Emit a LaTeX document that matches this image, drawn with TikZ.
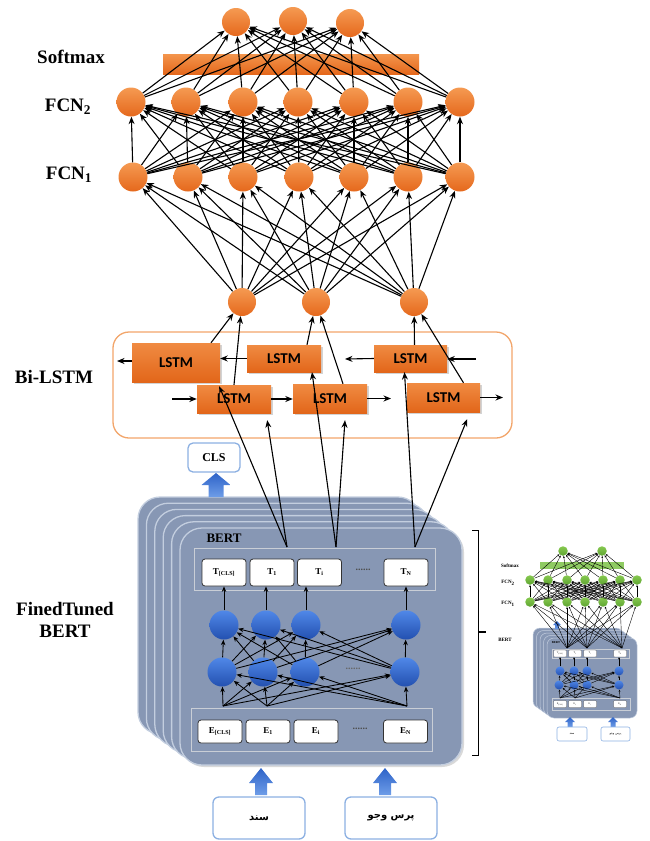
\documentclass[tikz,border=0pt]{standalone}
\usepackage{fontspec}
\setmainfont{Liberation Serif}
\newfontfamily\lstmfont{Carlito}
\newfontfamily\arabicfont[Script=Arabic]{DejaVu Sans}
\usetikzlibrary{arrows.meta,shadows,calc}
\TeXXeTstate=1
\definecolor{oTop}{HTML}{F59A52}
\definecolor{oBot}{HTML}{E5681C}
\definecolor{lstmTop}{HTML}{F08B42}
\definecolor{lstmBot}{HTML}{E2661A}
\definecolor{frameOr}{HTML}{F2A56A}
\definecolor{bTop}{HTML}{5088E8}
\definecolor{bBot}{HTML}{2350B0}
\definecolor{cardFill}{HTML}{8797B4}
\definecolor{cardEdge}{HTML}{C3CEDF}
\definecolor{rowEdge}{HTML}{C9CED6}
\definecolor{boxBlue}{HTML}{8CB0E2}
\definecolor{arrTop}{HTML}{2E63C8}
\definecolor{arrBot}{HTML}{6E9DE8}
\definecolor{gTop}{HTML}{86C94F}
\definecolor{gBot}{HTML}{5FA532}
\definecolor{gBar}{HTML}{8FCB62}
\newcommand\myblockarrow[6]{%
  \shade[top color=arrTop,bottom color=arrBot]
   (#1-#5,#2) -- (#1-#5,#3+#4) -- (#1-#6,#3+#4) -- (#1,#3) -- (#1+#6,#3+#4) -- (#1+#5,#3+#4) -- (#1+#5,#2) -- cycle;}
\begin{document}
\begin{tikzpicture}[x=1pt,y=-1pt,
  arr/.style={-{Stealth[length=7.5pt,width=6pt]},line width=1.1pt,black},
  sarr/.style={-{Stealth[length=5.5pt,width=4.5pt]},line width=0.85pt,black},
  tarr/.style={-{Stealth[length=2.2pt,width=1.8pt]},line width=0.4pt,black},
  onode/.style={circle,inner sep=0pt,minimum size=28pt,top color=oTop,bottom color=oBot,draw=none},
  bnode/.style={circle,inner sep=0pt,minimum size=29pt,top color=bTop,bottom color=bBot,draw=none},
  gnode/.style={circle,inner sep=0pt,minimum size=9.5pt,top color=gTop,bottom color=gBot,draw=none},
  sbnode/.style={circle,inner sep=0pt,minimum size=9pt,top color=bTop,bottom color=bBot,draw=none},
  lstm/.style={rectangle,inner sep=0pt,top color=lstmTop,bottom color=lstmBot,
     font=\lstmfont\bfseries\fontsize{15}{15}\selectfont,
     drop shadow={opacity=0.35,shadow xshift=1.5pt,shadow yshift=-1.5pt}},
  lbl/.style={font=\bfseries\fontsize{19}{22}\selectfont,align=center},
  card/.style={fill=cardFill,draw=cardEdge,line width=1.3pt,rounded corners=22pt},
  scard/.style={fill=cardFill,draw=cardEdge,line width=0.5pt,rounded corners=7pt},
  rowbox/.style={draw=rowEdge,line width=1pt,inner sep=0pt},
  tbox/.style={draw=black!80,fill=white,rounded corners=3pt,line width=0.8pt,inner sep=0pt,
     font=\bfseries\fontsize{9}{9}\selectfont},
  stbox/.style={draw=black!70,fill=white,rounded corners=1pt,line width=0.3pt,inner sep=0pt,
     minimum width=13pt,minimum height=7pt,font=\fontsize{2.5}{2.5}\selectfont},
  inbox/.style={draw=boxBlue,fill=white,rounded corners=6pt,line width=1.3pt,inner sep=0pt},
  sinbox/.style={draw=boxBlue,fill=white,rounded corners=2pt,line width=0.6pt,inner sep=0pt},
  slbl/.style={font=\bfseries\fontsize{5}{5}\selectfont}
]
\useasboundingbox (0,0) rectangle (649,841);

% ---------------- BERT stack ----------------
\foreach \k in {0,...,4}
  \draw[card] (138+8.4*\k,497+6.2*\k) rectangle ++(282,237);
\draw[card,drop shadow={opacity=0.3,shadow xshift=2pt,shadow yshift=-2pt}] (180,528) rectangle ++(282,237);
\node[anchor=west,font=\bfseries\fontsize{13}{13}\selectfont] (bertlbl) at (203,538) {BERT};
\node[rowbox,minimum width=241pt,minimum height=42pt] (Trow) at (314.5,569) {};
\node[tbox,minimum width=44pt,minimum height=27pt] (T0) at (224,572.5) {T\textsubscript{[CLS]}};
\node[tbox,minimum width=44pt,minimum height=27pt] (T1) at (272,572.5) {T\textsubscript{1}};
\node[tbox,minimum width=44pt,minimum height=27pt] (Ti) at (319.5,572.5) {T\textsubscript{i}};
\node[tbox,minimum width=44pt,minimum height=27pt] (TN) at (406,572.5) {T\textsubscript{N}};
\node[font=\bfseries\fontsize{10}{10}\selectfont,black!70] (tdots) at (363,570) {......};

\node[bnode] (u1) at (224,625) {};
\node[bnode] (u2) at (266,625) {};
\node[bnode] (u3) at (306,625) {};
\node[bnode] (u4) at (406,625) {};
\node[bnode] (l1) at (222,672) {};
\node[bnode] (l2) at (263,672) {};
\node[bnode] (l3) at (305,672) {};
\node[bnode] (l4) at (405,672) {};
\node[font=\bfseries\fontsize{10}{10}\selectfont,black!60] (ldots) at (353,669) {......};

\draw[sarr] (u1) -- (u1 |- T0.south);
\draw[sarr] (u2) -- (u2 |- T1.south);
\draw[sarr] (u3) -- (u3 |- Ti.south);
\draw[sarr] (u4) -- (u4 |- TN.south);
\foreach \i in {1,...,4}
  \foreach \j in {1,...,4}
    \draw[sarr] (l\i) -- (u\j);

\node[rowbox,minimum width=241pt,minimum height=43pt] (Erow) at (311.5,729.5) {};
\node[tbox,minimum width=44pt,minimum height=23pt] (E0) at (220,731.5) {E\textsubscript{[CLS]}};
\node[tbox,minimum width=44pt,minimum height=23pt] (E1) at (268,731.5) {E\textsubscript{1}};
\node[tbox,minimum width=44pt,minimum height=23pt] (Ei) at (316,731.5) {E\textsubscript{i}};
\node[tbox,minimum width=44pt,minimum height=23pt] (EN) at (405.5,731.5) {E\textsubscript{N}};
\node[font=\bfseries\fontsize{10}{10}\selectfont,black!70] (edots) at (360,729) {......};
\coordinate (ea) at (223,706);
\coordinate (eb) at (267,706);
\coordinate (ec) at (407,706);
\foreach \p in {ea,eb,ec}
  \foreach \j in {1,...,4}
    \draw[sarr] (\p) -- (l\j);

% ---------------- CLS and inputs ----------------
\node[inbox,minimum width=52pt,minimum height=29pt,rounded corners=5pt,font=\bfseries\fontsize{12}{12}\selectfont] (cls) at (214,457.5) {CLS};
\myblockarrow{216}{497}{473}{12}{7.5}{14.5}
\myblockarrow{261}{795}{768}{15}{6}{12}
\myblockarrow{385}{795}{768}{15}{6}{12}
\node[inbox,minimum width=92pt,minimum height=42pt] (in1) at (259,818) {\arabicfont\bfseries\fontsize{10}{10}\selectfont\beginR سند\endR};
\node[inbox,minimum width=92pt,minimum height=42pt] (in2) at (391,818) {\arabicfont\bfseries\fontsize{10}{10}\selectfont\beginR پرس وجو\endR};

% ---------------- Bi-LSTM ----------------
\draw[frameOr,line width=1.3pt,rounded corners=16pt] (113,332) rectangle (512,438);
\node[lstm,minimum width=88pt,minimum height=39pt] (L1) at (176,362.5) {LSTM};
\node[lstm,minimum width=74pt,minimum height=27pt] (L2) at (284,358.5) {LSTM};
\node[lstm,minimum width=73pt,minimum height=27pt] (L3) at (410.5,358.5) {LSTM};
\node[lstm,minimum width=74pt,minimum height=28pt] (L4) at (234,399) {LSTM};
\node[lstm,minimum width=74pt,minimum height=29pt] (L5) at (330,398.5) {LSTM};
\node[lstm,minimum width=73pt,minimum height=29pt] (L6) at (443.5,397.5) {LSTM};

\coordinate (a1) at (117,361);
\coordinate (a2) at (345,359);
\coordinate (a3) at (476,359);
\coordinate (a4) at (172,399);
\coordinate (a5) at (391,398.5);
\coordinate (a6) at (503,397.5);
\draw[arr] (L1.west |- a1) -- (a1);
\draw[arr] (L2.west) -- (L2.west -| L1.east);
\draw[arr] (L3.west) -- (a2);
\draw[arr] (a3) -- (a3 -| L3.east);
\draw[arr] (a4) -- (a4 -| L4.west);
\draw[arr] (L4.east) -- (L4.east -| L5.west);
\draw[arr] (L5.east) -- (a5);
\draw[arr] (L6.east) -- (a6);

\coordinate (tp1) at (287,547);
\coordinate (tp2) at (336,547);
\coordinate (tp3) at (415,547);
\draw[arr] (tp1) -- ([xshift=-1pt,yshift=-4pt]L1.south east);
\draw[arr] (tp1) -- ([xshift=-4pt,yshift=-7pt]L4.south east);
\draw[arr] (tp2) -- ([xshift=28pt]L2.south);
\draw[arr] (tp2) -- ([xshift=15pt,yshift=-7pt]L5.south);
\draw[arr] (tp3) -- ([xshift=-6pt]L3.south);
\draw[arr] (tp3) -- ([xshift=-13pt,yshift=-7pt]L6.south east);

% ---------------- upper network ----------------
\node[onode] (h1) at (242,302) {};
\node[onode] (h2) at (316,302) {};
\node[onode] (h3) at (414,302) {};
\draw[arr] ([xshift=35pt]L1.north) -- (h1);
\draw[arr] (L4.north) -- (h1);
\draw[arr] ([xshift=23pt]L2.north) -- (h2);
\draw[arr] ([xshift=13pt]L5.north) -- (h2);
\draw[arr] ([xshift=4pt]L3.north) -- (h3);
\draw[arr] ([xshift=20pt]L6.north) -- (h3);

\foreach \x [count=\i] in {133,188,243,299,354,408,460}
  \node[onode,minimum size=29pt] (f\i) at (\x,177) {};
\foreach \x [count=\i] in {131,186,243,298,354,408,460}
  \node[onode,minimum size=29pt] (g\i) at (\x,102) {};
\node[onode,minimum size=28pt] (o1) at (236,22) {};
\node[onode,minimum size=28pt] (o2) at (293,21) {};
\node[onode,minimum size=28pt] (o3) at (350,23) {};
\shade[top color=oTop!90!oBot,bottom color=oBot] (163,54) rectangle (419,74);

\foreach \i in {1,...,3}
  \foreach \j in {1,...,7}
    \draw[arr] (h\i) -- (f\j);
\foreach \i in {1,...,7}
  \foreach \j in {1,...,7}
    \draw[arr] (f\i) -- (g\j);
\foreach \i in {1,...,7}
  \foreach \j in {1,...,3}
    \draw[arr] (g\i) -- (o\j);

% ---------------- labels ----------------
\node[lbl] (lsoft) at (71,57) {Softmax};
\node[lbl] (lfc2) at (68,107) {FCN\textsubscript{2}};
\node[lbl] (lfc1) at (69,175) {FCN\textsubscript{1}};
\node[lbl] (lbi) at (54,377) {Bi-LSTM};
\node[lbl] (lbert) at (65,620) {FinedTuned\\BERT};

% ---------------- bracket ----------------
\draw[line width=1pt] (472,530) -- (478,530) -- (478,755) -- (472,755);
\draw[line width=2pt] (478,632) -- (486,632);

% ---------------- inset ----------------
\node[slbl] (sls) at (510,566) {Softmax};
\node[slbl] (slf2) at (508,583) {FCN\textsubscript{2}};
\node[slbl] (slf1) at (508,604) {FCN\textsubscript{1}};
\node[slbl] (slb) at (505,640) {BERT};

\foreach \k in {0,...,4}
  \draw[scard] (533+3.5*\k,628+2.5*\k) rectangle ++(90,80);
\node[font=\bfseries\fontsize{3}{3}\selectfont] (sbl) at (556,643) {BERT};
\node[rowbox,line width=0.4pt,minimum width=77pt,minimum height=9pt] (sTrow) at (590.5,653.5) {};
\node[stbox] (sT0) at (560,653.5) {T\textsubscript{[CLS]}};
\node[stbox] (sT1) at (575,653.5) {T\textsubscript{1}};
\node[stbox] (sTi) at (590,653.5) {T\textsubscript{i}};
\node[stbox] (sTN) at (620,653.5) {T\textsubscript{N}};
\node[sbnode] (su1) at (560,671) {};
\node[sbnode] (su2) at (574,671) {};
\node[sbnode] (su3) at (587,671) {};
\node[sbnode] (su4) at (619,671) {};
\node[sbnode] (sl1) at (559,685) {};
\node[sbnode] (sl2) at (574,685) {};
\node[sbnode] (sl3) at (587,685) {};
\node[sbnode] (sl4) at (619,685) {};
\foreach \i in {1,...,4} \draw[tarr] (su\i) -- (su\i |- sTN.south);
\foreach \i in {1,...,4}
  \foreach \j in {1,...,4}
    \draw[tarr] (sl\i) -- (su\j);
\node[rowbox,line width=0.4pt,minimum width=78pt,minimum height=12pt] (sErow) at (591,704) {};
\node[stbox] (sE0) at (560,704) {E\textsubscript{[CLS]}};
\node[stbox] (sE1) at (575,704) {E\textsubscript{1}};
\node[stbox] (sEi) at (590,704) {E\textsubscript{i}};
\node[stbox] (sEN) at (620,704) {E\textsubscript{N}};
\coordinate (sea) at (560,698);
\coordinate (seb) at (575,698);
\coordinate (sec) at (620,698);
\foreach \p in {sea,seb,sec}
  \foreach \j in {1,...,4}
    \draw[tarr] (\p) -- (sl\j);
\myblockarrow{570}{727}{717}{5}{2.5}{5}
\myblockarrow{613}{727}{717}{5}{2.5}{5}
\myblockarrow{557}{629}{621}{4}{2}{4}
\node[font=\fontsize{3}{3}\selectfont,black!50] (scls) at (557,616) {CLS};
\node[sinbox,minimum width=30pt,minimum height=14pt] (sin1) at (572,734) {\arabicfont\fontsize{3}{3}\selectfont\beginR سند\endR};
\node[sinbox,minimum width=29pt,minimum height=14pt] (sin2) at (615.5,734) {\arabicfont\fontsize{3}{3}\selectfont\beginR پرس وجو\endR};

\foreach \x [count=\i] in {530,548,567,585,603,620,637}
  \node[gnode] (sf\i) at (\x,602) {};
\foreach \x [count=\i] in {530,548,567,585,603,620,637}
  \node[gnode] (sg\i) at (\x,580) {};
\node[gnode] (so1) at (563,551) {};
\node[gnode] (so2) at (602,551) {};
\fill[gBar] (540,562) rectangle (624,569);
\coordinate (stp1) at (567,648);
\coordinate (stp2) at (587,648);
\coordinate (stp3) at (622,648);
\foreach \p in {stp1,stp2,stp3}
  \foreach \j in {1,...,7}
    \draw[tarr] (\p) -- (sf\j);
\foreach \i in {1,...,7}
  \foreach \j in {1,...,7}
    \draw[tarr] (sf\i) -- (sg\j);
\foreach \i in {1,...,7}
  \foreach \j in {1,2}
    \draw[tarr] (sg\i) -- (so\j);
\end{tikzpicture}
\end{document}
